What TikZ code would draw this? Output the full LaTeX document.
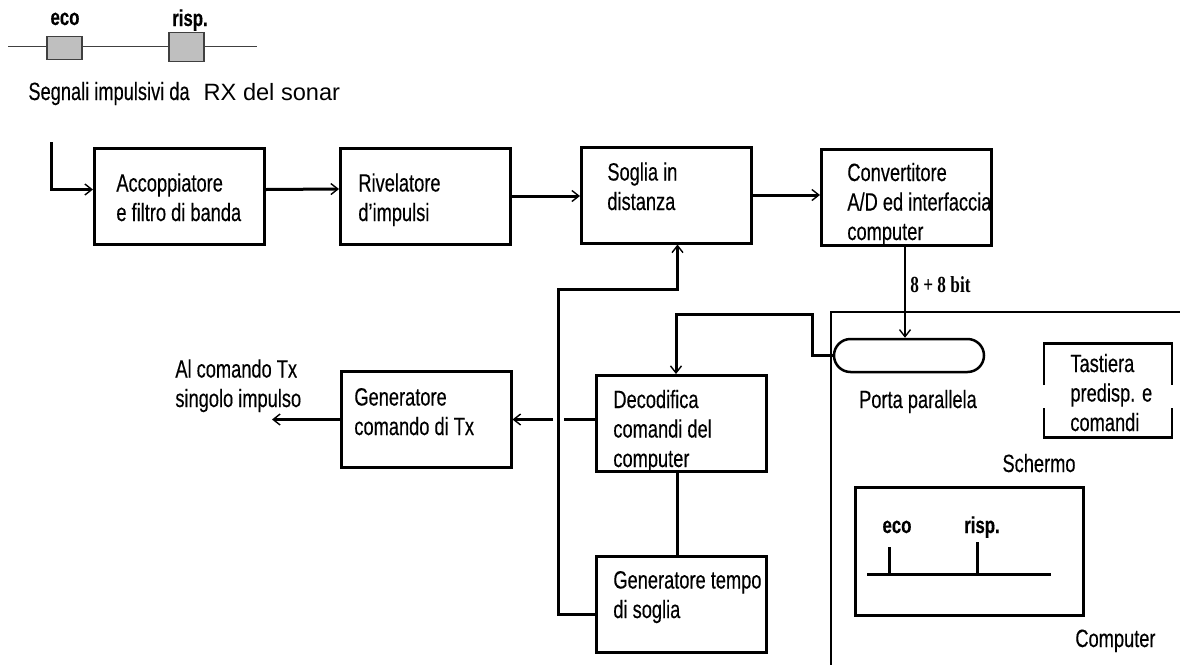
\documentclass[tikz,border=0pt]{standalone}
\usepackage{fontspec}
\setmainfont{Liberation Sans}[FakeStretch=0.73, FakeBold=0.3]
\newfontfamily\widefont{Liberation Sans}
\newfontfamily\bitfont{Liberation Serif}[FakeStretch=0.75]
\usetikzlibrary{arrows.meta}

\begin{document}
\begin{tikzpicture}[x=0.5pt, y=-0.5pt,
  blk/.style={draw, line width=1.5pt, minimum width=85pt, minimum height=48pt, inner sep=0pt},
  lbl/.style={anchor=base west, align=left, inner sep=0pt, font=\fontsize{12.5}{14.75}\selectfont},
  tag/.style={anchor=base, inner sep=0pt, font=\fontsize{11.5}{13}\selectfont\bfseries},
  conn/.style={line width=1.5pt},
  arr/.style={-{Straight Barb[length=3.5pt,width=5.5pt,line width=0.7pt]}},
  pulse/.style={draw=black!75, line width=0.8pt, fill=black!25, minimum width=17.5pt, inner sep=0pt}]
\useasboundingbox (0,0) rectangle (1180,665);

% segnali dal sonar
\draw[line width=0.8pt, black!75] (8,46.5) -- (257,46.5);
\node[pulse, minimum height=11.5pt] (eco1) at (64.5,48) {};
\node[pulse, minimum height=14.5pt] (risp1) at (186.5,47) {};
\node[tag] (eco1-t) at (65,25) {eco};
\node[tag] (risp1-t) at (190,26) {risp.};
\node[lbl] (rx-t) at (28,100) {Segnali impulsivi da\hspace{7pt}{\widefont\fontsize{11.8}{14}\selectfont RX del sonar}};

% catena di ricezione (testi: base = ultima riga)
\node[blk] (acc) at (179.5,196.5) {};
\node[blk] (riv) at (425.5,196) {};
\node[blk] (sog) at (666.5,195) {};
\node[blk] (conv) at (906.5,197) {};
\node[lbl] (acc-t) at (116,221) {Accoppiatore\\e filtro di banda};
\node[lbl] (riv-t) at (358,221) {Rivelatore\\d'impulsi};
\node[lbl] (sog-t) at (607,210) {Soglia in\\distanza};
\node[lbl] (conv-t) at (847,240) {Convertitore\\A/D ed interfaccia\\computer};

% comandi
\node[blk] (gcom) at (426,419.5) {};
\node[blk] (deco) at (681.5,423.5) {};
\node[blk] (gtemp) at (681.5,604.5) {};
\node[lbl] (gcom-t) at (354,435) {Generatore\\comando di Tx};
\node[lbl] (deco-t) at (613,467) {Decodifica\\comandi del\\computer};
\node[lbl] (gtemp-t) at (613,618) {Generatore tempo\\di soglia};
\node[lbl] (txout-t) at (175,407) {Al comando Tx\\singolo impulso};

% computer
\draw[line width=0.6pt] (831,665) -- (831,312) -- (1180,312);
\node[draw, line width=1.25pt, minimum width=75pt, minimum height=16.5pt,
      rounded corners=8.25pt, inner sep=0pt] (porta) at (909,355.5) {};
\node[lbl, anchor=base] (porta-t) at (918,408) {Porta parallela};
\node[minimum width=63.75pt, minimum height=46.75pt, inner sep=0pt] (tast) at (1108,390.5) {};
\draw[line width=1.25pt] ([yshift=2.75pt]tast.west) |- (tast.north east) -- ([yshift=2.75pt]tast.east);
\draw[line width=1.25pt] ([yshift=-8.75pt]tast.west) |- (tast.south east) -- ([yshift=-8.75pt]tast.east);
\node[lbl] (tast-t) at (1070,431) {Tastiera\\predisp. e\\comandi};
\node[lbl, anchor=base] (scr-t) at (1039,472) {Schermo};
\node[blk, minimum width=114pt, minimum height=64pt] (scr) at (969,551) {};
\draw[conn] (867,574) -- (1051,574);
\draw[conn] (889,574) -- (889,547);
\draw[conn] (977,574) -- (977,542);
\node[tag] (eco2-t) at (897,533) {eco};
\node[tag] (risp2-t) at (982,533) {risp.};
\node[lbl] (comp-t) at (1075,647) {Computer};

% collegamenti
\coordinate (rxin) at (51,142);
\draw[conn,arr] (rxin) |- ([yshift=3.5pt]acc.west);
\draw[conn,arr] ([yshift=3.5pt]acc.east) -- ([yshift=3.5pt]riv.west);
\draw[conn,arr] (riv.east) -- (riv.east -| sog.west);
\draw[conn,arr] (sog.east) -- (sog.east -| conv.west);
\draw[line width=1pt,arr] ([xshift=-0.75pt]conv.south) -- ([xshift=-0.75pt]conv.south |- porta.north);
\node[anchor=base west, inner sep=0pt, font=\bitfont\bfseries\fontsize{11.5}{13}\selectfont] (bits) at (910,292) {8 + 8 bit};

\coordinate (jog) at (812,314);
\draw[conn,arr] (porta.west) -| (jog) -| ([xshift=-2.75pt]deco.north);

\coordinate (jumpr) at (564,419.5);
\coordinate (jumpl) at (553,419.5);
\draw[conn] (deco.west |- jumpr) -- (jumpr);
\draw[conn,arr] (jumpl) -- (gcom.east);
\coordinate (txout) at (272,419.5);
\draw[conn,arr] (gcom.west) -- (txout);

\draw[conn] ([xshift=-2.25pt]deco.south) -- ([xshift=-2.25pt]gtemp.north);
\coordinate (fb) at (558,289);
\draw[conn,arr] ([yshift=-4.75pt]gtemp.west) -| (fb) -| ([xshift=5.5pt]sog.south);
\end{tikzpicture}
\end{document}
